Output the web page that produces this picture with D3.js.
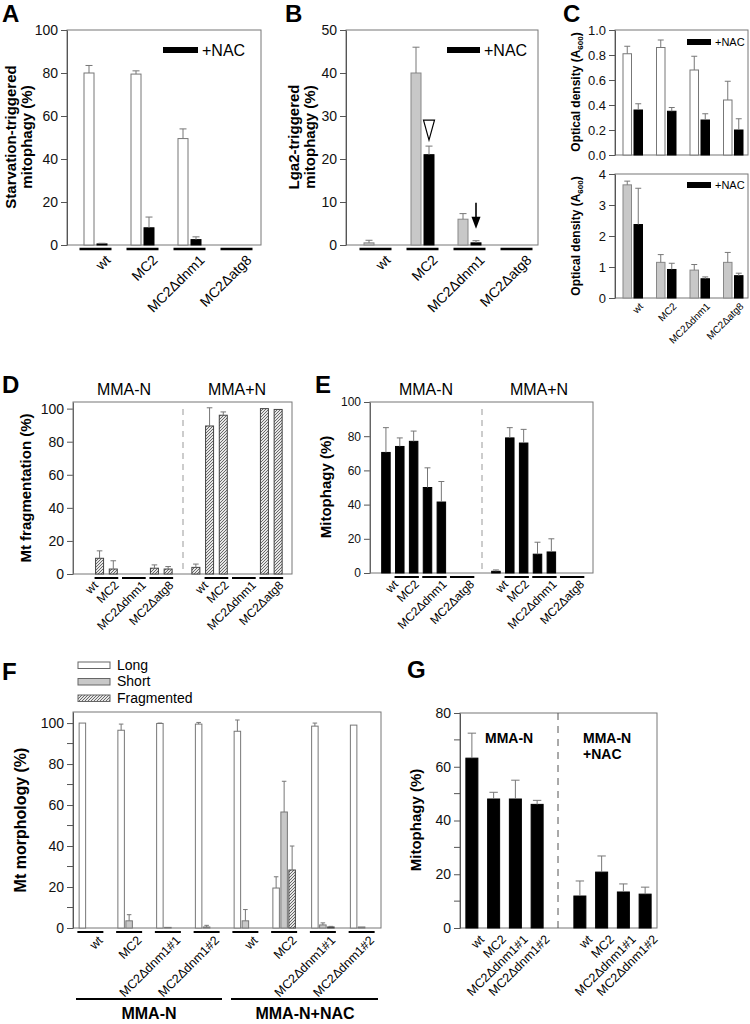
<!DOCTYPE html>
<html>
<head>
<meta charset="utf-8">
<script src="https://cdn.jsdelivr.net/npm/d3@7"></script>
<style>
  body { margin: 0; background: #fff; }
  svg { display: block; font-family: Arial, "Liberation Sans", sans-serif; }
</style>
</head>
<body>
<svg id="fig" width="750" height="1024"></svg>
<script>
// ---------- data ----------
const strains = ['wt', 'MC2', 'MC2Δdnm1', 'MC2Δatg8'];

// A: starvation-triggered mitophagy
const starvCtrl = [80, 79.5, 49.5, 0];
const starvCtrlErr = [3.5, 1.5, 4.5, 0];
const starvNac = [0.5, 8, 2.5, 0];
const starvNacErr = [0.3, 5, 1.3, 0];

// B: Lga2-triggered mitophagy
const lgaCtrl = [0.5, 40, 6, 0];
const lgaCtrlErr = [0.6, 6, 1.3, 0];
const lgaNac = [0, 21, 0.5, 0];
const lgaNacErr = [0, 2, 0.5, 0];

// C: optical density, top and bottom
const odTopCtrl = [0.81, 0.86, 0.68, 0.44];
const odTopCtrlErr = [0.06, 0.06, 0.11, 0.15];
const odTopNac = [0.36, 0.35, 0.28, 0.20];
const odTopNacErr = [0.05, 0.03, 0.05, 0.09];
const odBotCtrl = [3.65, 1.15, 0.9, 1.15];
const odBotCtrlErr = [0.12, 0.25, 0.18, 0.32];
const odBotNac = [2.37, 0.92, 0.62, 0.72];
const odBotNacErr = [1.17, 0.2, 0.06, 0.08];

// D / E: 7 bars per condition (wt, MC2 x2, dnm1 x2, atg8 x2)
const barGroups = [[0], [1, 2], [3, 4], [5, 6]];
const fragMinus = [0, 9.5, 3, 0, 0, 3.5, 3];
const fragMinusErr = [0, 4.5, 5, 0, 0, 2, 1.5];
const fragPlus = [4, 89.5, 96, 0, 0, 100, 99.5];
const fragPlusErr = [2, 11, 2, 0, 0, 0, 0];
const mitoMinus = [70.5, 74, 77, 50, 41.5, 0, 0];
const mitoMinusErr = [14.5, 5, 6, 11.5, 12, 0, 0];
const mitoPlus = [1, 79, 76, 11, 12.3, 0, 0];
const mitoPlusErr = [0.8, 6, 8, 7, 7.7, 0, 0];

// F: morphology, 8 groups (MMA-N, then MMA-N+NAC)
const fStrains = ['wt', 'MC2', 'MC2Δdnm1#1', 'MC2Δdnm1#2', 'wt', 'MC2', 'MC2Δdnm1#1', 'MC2Δdnm1#2'];
const fLong = [100, 96.5, 99.8, 99.5, 96, 19.5, 98.5, 99];
const fLongErr = [0, 3, 0.2, 0.8, 5.5, 5.5, 1.5, 0];
const fShort = [0, 3.5, 0.3, 0.5, 3.5, 56.6, 1.5, 0.5];
const fShortErr = [0, 3, 0, 0.8, 5.5, 15, 1, 0];
const fFrag = [0, 0, 0, 0, 0, 28.3, 0.5, 0];
const fFragErr = [0, 0, 0, 0, 0, 11.7, 0.3, 0];

// G: mitophagy
const gStrains = ['wt', 'MC2', 'MC2Δdnm1#1', 'MC2Δdnm1#2'];
const gMinus = [63.2, 48, 48, 46];
const gMinusErr = [9.3, 2.5, 7, 1.5];
const gNac = [11.9, 20.8, 13.4, 12.6];
const gNacErr = [5.6, 6, 3, 2.6];

// ---------- helpers ----------
const svg = d3.select('#fig');
const defs = svg.append('defs');
const hatch = defs.append('pattern').attr('id', 'hatch')
  .attr('patternUnits', 'userSpaceOnUse').attr('width', 3).attr('height', 3);
hatch.append('rect').attr('width', 3).attr('height', 3).attr('fill', '#e6e6e6');
hatch.append('path').attr('d', 'M-1,1L1,-1M0,3L3,0M2,4L4,2')
  .attr('stroke', '#333').attr('stroke-width', 0.7);

const GRAY = '#c8c8c8';

function letter(t, x, y) {
  svg.append('text').attr('x', x).attr('y', y).attr('font-size', 24)
    .attr('font-weight', 'bold').text(t);
}

function frame(x0, x1, y0, y1) {
  svg.append('rect').attr('x', x0).attr('y', y0)
    .attr('width', x1 - x0).attr('height', y1 - y0)
    .attr('fill', 'none').attr('stroke', '#777');
}

function yAxis(y, x, ticks, fs, fmt, minor) {
  const g = svg.append('g').attr('transform', `translate(${x},0)`)
    .call(d3.axisLeft(y).tickValues(ticks).tickSize(6).tickSizeOuter(0)
      .tickPadding(3).tickFormat(fmt || d3.format('d')));
  g.select('.domain').attr('stroke', '#555');
  g.selectAll('.tick line').attr('stroke', '#555');
  g.selectAll('.tick text').attr('font-size', fs).attr('fill', '#111')
    .attr('font-family', 'Arial, "Liberation Sans", sans-serif');
  if (minor) {
    g.selectAll('.minor').data(minor).join('line').attr('class', 'minor')
      .attr('x1', -6).attr('x2', 0).attr('y1', d => y(d)).attr('y2', d => y(d))
      .attr('stroke', '#555');
  }
}

function yLabel(lines, x, yc, fs) {
  lines.forEach((t, i) => {
    svg.append('text').attr('transform', `translate(${x + i * (fs + 1)},${yc}) rotate(-90)`)
      .attr('text-anchor', 'middle').attr('font-size', fs).attr('font-weight', 'bold').text(t);
  });
}

function bars(xs, vals, errs, y, w, fill, stroke) {
  const d = vals.map((v, i) => ({ x: xs[i], v, e: errs[i] }));
  const g = svg.append('g');
  g.selectAll('rect').data(d).join('rect')
    .attr('x', o => o.x - w / 2).attr('width', w)
    .attr('y', o => y(o.v)).attr('height', o => y(0) - y(o.v))
    .attr('fill', fill).attr('stroke', stroke).attr('stroke-width', 1);
  g.selectAll('path').data(d.filter(o => o.e > 0)).join('path')
    .attr('d', o => `M${o.x},${y(o.v)}V${y(o.v + o.e)}M${o.x - w * 0.35},${y(o.v + o.e)}H${o.x + w * 0.35}`)
    .attr('stroke', '#777').attr('fill', 'none');
}

function xLabels(names, xs, dx, y0, fs) {
  svg.append('g').selectAll('text').data(names).join('text')
    .attr('transform', (d, i) => `translate(${xs[i] + dx},${y0}) rotate(-45)`)
    .attr('text-anchor', 'end').attr('dy', '0.7em').attr('font-size', fs).text(d => d);
}

function underline(x0, x1, y, sw) {
  svg.append('line').attr('x1', x0).attr('x2', x1).attr('y1', y).attr('y2', y)
    .attr('stroke', '#000').attr('stroke-width', sw || 2);
}

function legendNac(x, y, w, h, fs) {
  svg.append('rect').attr('x', x).attr('y', y).attr('width', w).attr('height', h).attr('fill', '#000');
  svg.append('text').attr('x', x + w + 4).attr('y', y + h / 2).attr('dy', '0.35em')
    .attr('font-size', fs).text('+NAC');
}

function divider(x, y0, y1, color, dash) {
  svg.append('line').attr('x1', x).attr('x2', x).attr('y1', y0).attr('y2', y1)
    .attr('stroke', color).attr('stroke-dasharray', dash);
}

const ticks100 = [0, 20, 40, 60, 80, 100];

// ---------- A ----------
const yA = d3.scaleLinear().domain([0, 100]).range([245, 30]);
const xA = d3.scaleBand().domain(strains).range([72, 260]);
const cA = strains.map(s => xA(s) + xA.bandwidth() / 2);
frame(67, 261, 30, 245);
yAxis(yA, 67, ticks100, 14);
bars(cA.map(c => c - 6.5), starvCtrl, starvCtrlErr, yA, 10, '#fff', '#777');
bars(cA.map(c => c + 6.5), starvNac, starvNacErr, yA, 10, '#000', '#000');
cA.forEach(c => underline(c - 16, c + 16, 249, 2.5));
xLabels(strains, cA, 9, 254, 14);
legendNac(163, 47, 35, 6, 16);
yLabel(['Starvation-triggered', 'mitophagy (%)'], 16, 137, 15);
letter('A', 2, 22);

// ---------- B ----------
const yB = d3.scaleLinear().domain([0, 50]).range([245, 30]);
const xB = d3.scaleBand().domain(strains).range([352, 540]);
const cB = strains.map(s => xB(s) + xB.bandwidth() / 2);
frame(346, 538, 30, 245);
yAxis(yB, 346, [0, 10, 20, 30, 40, 50], 14);
bars(cB.map(c => c - 6.5), lgaCtrl, lgaCtrlErr, yB, 10, GRAY, '#888');
bars(cB.map(c => c + 6.5), lgaNac, lgaNacErr, yB, 10, '#000', '#000');
cB.forEach(c => underline(c - 16, c + 16, 249, 2.5));
xLabels(strains, cB, 9, 254, 14);
legendNac(447, 47, 33, 6, 16);
yLabel(['Lga2-triggered', 'mitophagy (%)'], 299, 137, 15);
letter('B', 285, 22);
// open triangle over MC2 +NAC, arrow over MC2Δdnm1 +NAC
{
  const tx = cB[1] + 6.5, ty = yB(lgaNac[1] + lgaNacErr[1]) - 6;
  svg.append('path').attr('d', `M${tx - 5.5},${ty - 20}H${tx + 5.5}L${tx},${ty}Z`)
    .attr('fill', '#fff').attr('stroke', '#000').attr('stroke-width', 1.2);
  const ax = cB[2] + 6.5, ay = yB(lgaNac[2] + lgaNacErr[2]) - 12;
  svg.append('line').attr('x1', ax).attr('x2', ax).attr('y1', ay - 26).attr('y2', ay - 10)
    .attr('stroke', '#000').attr('stroke-width', 1.6);
  svg.append('path').attr('d', `M${ax - 4.5},${ay - 12}H${ax + 4.5}L${ax},${ay}Z`).attr('fill', '#000');
}

// ---------- C ----------
const xC = d3.scaleBand().domain(strains).range([616, 750]);
const cC = strains.map(s => xC(s) + xC.bandwidth() / 2);
const yC1 = d3.scaleLinear().domain([0, 1]).range([155, 30]);
const yC2 = d3.scaleLinear().domain([0, 4]).range([298, 174]);
frame(615, 748, 30, 155);
frame(615, 748, 174, 298);
yAxis(yC1, 615, [0, 0.2, 0.4, 0.6, 0.8, 1.0], 13, d3.format('.1f'));
yAxis(yC2, 615, [0, 1, 2, 3, 4], 13);
bars(cC.map(c => c - 5.5), odTopCtrl, odTopCtrlErr, yC1, 8.5, '#fff', '#777');
bars(cC.map(c => c + 5.5), odTopNac, odTopNacErr, yC1, 8.5, '#000', '#000');
bars(cC.map(c => c - 5.5), odBotCtrl, odBotCtrlErr, yC2, 8.5, GRAY, '#888');
bars(cC.map(c => c + 5.5), odBotNac, odBotNacErr, yC2, 8.5, '#000', '#000');
legendNac(687, 39, 24, 6, 11);
legendNac(687, 182, 24, 6, 11);
xLabels(strains, cC, 6, 302, 10);
[92, 236].forEach(yc => {
  const t = svg.append('text').attr('transform', `translate(580,${yc}) rotate(-90)`)
    .attr('text-anchor', 'middle').attr('font-size', 12).attr('font-weight', 'bold');
  t.append('tspan').text('Optical density (A');
  t.append('tspan').attr('font-size', 8).attr('dy', 3).text('600');
  t.append('tspan').attr('dy', -3).text(')');
});
letter('C', 563, 22);

// ---------- D and E (shared layout helper) ----------
function splitPanel(opts) {
  const { x0, xDiv, x1, y, leftRange, rightRange, left, leftErr, right, rightErr, fill, stroke, bw } = opts;
  frame(x0, x1, y.range()[1], y.range()[0]);
  divider(xDiv, y.range()[1] + 7, y.range()[0], '#999', '6,5');
  [[leftRange, left, leftErr], [rightRange, right, rightErr]].forEach(([rng, vals, errs]) => {
    const xb = d3.scaleBand().domain(d3.range(vals.length)).range(rng);
    const cx = d3.range(vals.length).map(i => xb(i) + xb.bandwidth() / 2);
    bars(cx, vals, errs, y, bw, fill, stroke);
    const gc = barGroups.map(g => d3.mean(g, i => cx[i]));
    barGroups.forEach(g => {
      if (g.length > 1) underline(cx[g[0]] - bw / 2 - 1, cx[g[g.length - 1]] + bw / 2 + 1, y(0) + 4, 2);
    });
    xLabels(strains, gc, 7, y(0) + 6, 12);
  });
}

const yD = d3.scaleLinear().domain([0, 104]).range([574, 402]);
yAxis(yD, 73, ticks100, 14);
splitPanel({
  x0: 73, xDiv: 183, x1: 292, y: yD, leftRange: [79, 175], rightRange: [189, 285],
  left: fragMinus, leftErr: fragMinusErr, right: fragPlus, rightErr: fragPlusErr,
  fill: 'url(#hatch)', stroke: '#444', bw: 8
});
svg.append('text').attr('x', 124).attr('y', 395).attr('text-anchor', 'middle').attr('font-size', 16).text('MMA-N');
svg.append('text').attr('x', 237).attr('y', 395).attr('text-anchor', 'middle').attr('font-size', 16).text('MMA+N');
yLabel(['Mt fragmentation (%)'], 31, 488, 15);
letter('D', 2, 393);

const yE = d3.scaleLinear().domain([0, 100]).range([573, 402]);
yAxis(yE, 370, ticks100, 12);
splitPanel({
  x0: 370, xDiv: 482, x1: 593, y: yE, leftRange: [379, 476], rightRange: [489, 586],
  left: mitoMinus, leftErr: mitoMinusErr, right: mitoPlus, rightErr: mitoPlusErr,
  fill: '#000', stroke: '#000', bw: 8.5
});
svg.append('text').attr('x', 426).attr('y', 395).attr('text-anchor', 'middle').attr('font-size', 16).text('MMA-N');
svg.append('text').attr('x', 539).attr('y', 395).attr('text-anchor', 'middle').attr('font-size', 16).text('MMA+N');
yLabel(['Mitophagy (%)'], 331, 487, 15);
letter('E', 315, 393);

// ---------- F ----------
const yF = d3.scaleLinear().domain([0, 105.4]).range([928, 712]);
const xF = d3.scaleBand().domain(d3.range(8)).range([71, 381]);
const cF = d3.range(8).map(i => xF(i) + xF.bandwidth() / 2);
frame(73, 381, 712, 928);
yAxis(yF, 73, ticks100, 14, null, [10, 30, 50, 70, 90]);
bars(cF.map(c => c - 8), fLong, fLongErr, yF, 6.5, '#fff', '#777');
bars(cF, fShort, fShortErr, yF, 6.5, GRAY, '#777');
bars(cF.map(c => c + 8), fFrag, fFragErr, yF, 6.5, 'url(#hatch)', '#444');
cF.forEach(c => underline(c - 13, c + 13, 932, 2));
xLabels(fStrains, cF, 7, 935, 12.5);
underline(76, 222, 999, 2);
underline(231, 378, 999, 2);
svg.append('text').attr('x', 149).attr('y', 1019).attr('text-anchor', 'middle')
  .attr('font-size', 16).attr('font-weight', 'bold').text('MMA-N');
svg.append('text').attr('x', 305).attr('y', 1019).attr('text-anchor', 'middle')
  .attr('font-size', 16).attr('font-weight', 'bold').text('MMA-N+NAC');
const fLegend = [['Long', '#fff'], ['Short', GRAY], ['Fragmented', 'url(#hatch)']];
fLegend.forEach(([name, fill], i) => {
  svg.append('rect').attr('x', 78).attr('y', 662 + i * 16.5).attr('width', 32).attr('height', 6.5)
    .attr('fill', fill).attr('stroke', '#666');
  svg.append('text').attr('x', 117).attr('y', 665 + i * 16.5).attr('dy', '0.35em')
    .attr('font-size', 14).text(name);
});
yLabel(['Mt morphology (%)'], 26, 820, 16);
letter('F', 2, 680);

// ---------- G ----------
const yG = d3.scaleLinear().domain([0, 80]).range([928, 713]);
const xGL = d3.scaleBand().domain(gStrains).range([461, 548]);
const xGR = d3.scaleBand().domain(gStrains).range([569, 656]);
const cGL = gStrains.map(s => xGL(s) + xGL.bandwidth() / 2);
const cGR = gStrains.map(s => xGR(s) + xGR.bandwidth() / 2);
frame(460, 657, 713, 928);
divider(558, 713, 928, '#555', '7,6');
yAxis(yG, 460, [0, 20, 40, 60, 80], 14, null, [10, 30, 50, 70]);
bars(cGL, gMinus, gMinusErr, yG, 12, '#000', '#000');
bars(cGR, gNac, gNacErr, yG, 12, '#000', '#000');
xLabels(gStrains, cGL, 7, 934, 12.5);
xLabels(gStrains, cGR, 7, 934, 12.5);
svg.append('text').attr('x', 485).attr('y', 743).attr('font-size', 14).attr('font-weight', 'bold').text('MMA-N');
svg.append('text').attr('x', 583).attr('y', 743).attr('font-size', 14).attr('font-weight', 'bold').text('MMA-N');
svg.append('text').attr('x', 583).attr('y', 759).attr('font-size', 14).attr('font-weight', 'bold').text('+NAC');
yLabel(['Mitophagy (%)'], 421, 820, 15);
letter('G', 407, 678);
</script>
</body>
</html>
